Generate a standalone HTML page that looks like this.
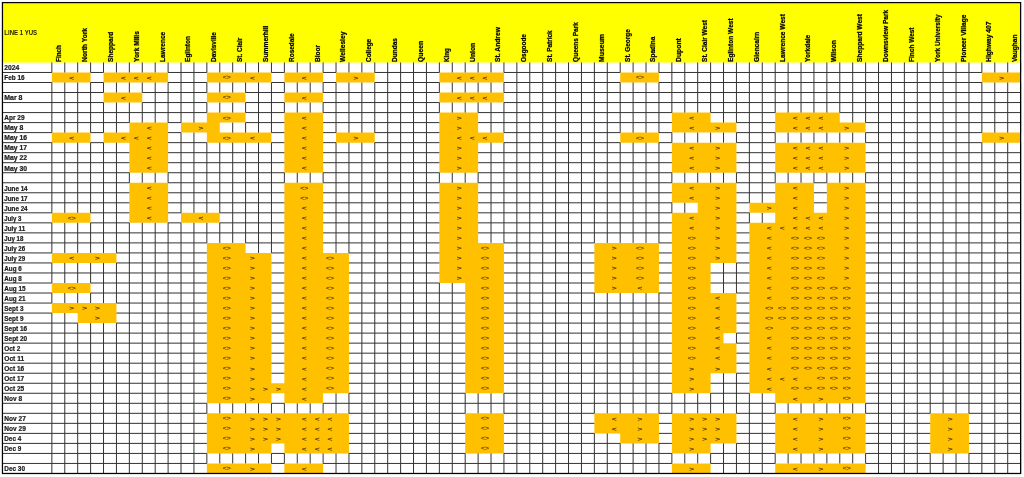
<!DOCTYPE html><html><head><meta charset="utf-8"><title>Line 1 YUS</title><style>
html,body{margin:0;padding:0;background:#fff;width:1024px;height:477px;overflow:hidden}
svg{display:block}
.h{font-family:"Liberation Sans",Arial,sans-serif;font-weight:bold;fill:#000;stroke:#000;stroke-width:0.22px}
.d{font-family:"Liberation Sans",Arial,sans-serif;font-weight:bold;fill:#1a1a1a;stroke:#1a1a1a;stroke-width:0.22px}
.s{font-family:"Liberation Sans",Arial,sans-serif;fill:#3a2600;stroke:#3a2600;stroke-width:0.15px}
</style></head><body>
<svg width="1024" height="477" viewBox="0 0 1024 477">
<rect x="0" y="0" width="1024" height="477" fill="#fff"/>
<rect x="2.6" y="2.6" width="1018.02" height="59.85" fill="#ffff00"/>
<defs><linearGradient id="yb" x1="0" y1="0" x2="0" y2="1"><stop offset="0" stop-color="#ffff00" stop-opacity="0.45"/><stop offset="1" stop-color="#ffff00" stop-opacity="0"/></linearGradient></defs>
<rect x="2.6" y="62.45" width="1018.02" height="1.5" fill="url(#yb)"/>
<path fill="#ffc000" d="M51.85 72.48H90.6V82.5H51.85ZM103.52 72.48H168.1V82.5H103.52ZM206.85 72.48H271.44V82.5H206.85ZM284.36 72.48H323.11V82.5H284.36ZM336.02 72.48H374.78V82.5H336.02ZM439.36 72.48H503.94V82.5H439.36ZM620.2 72.48H658.95V82.5H620.2ZM981.87 72.48H1020.62V82.5H981.87ZM103.52 92.53H142.27V102.55H103.52ZM206.85 92.53H245.6V102.55H206.85ZM284.36 92.53H323.11V102.55H284.36ZM439.36 92.53H503.94V102.55H439.36ZM206.85 112.58H245.6V122.6H206.85ZM284.36 112.58H323.11V122.6H284.36ZM439.36 112.58H478.11V122.6H439.36ZM671.87 112.58H710.62V122.6H671.87ZM775.2 112.58H839.79V122.6H775.2ZM129.35 122.6H168.1V132.62H129.35ZM181.02 122.6H219.77V132.62H181.02ZM284.36 122.6H323.11V132.62H284.36ZM439.36 122.6H478.11V132.62H439.36ZM671.87 122.6H736.45V132.62H671.87ZM775.2 122.6H865.62V132.62H775.2ZM51.85 132.62H90.6V142.65H51.85ZM103.52 132.62H168.1V142.65H103.52ZM206.85 132.62H271.44V142.65H206.85ZM284.36 132.62H323.11V142.65H284.36ZM336.02 132.62H374.78V142.65H336.02ZM439.36 132.62H503.94V142.65H439.36ZM620.2 132.62H658.95V142.65H620.2ZM981.87 132.62H1020.62V142.65H981.87ZM129.35 142.65H168.1V152.68H129.35ZM284.36 142.65H323.11V152.68H284.36ZM439.36 142.65H478.11V152.68H439.36ZM671.87 142.65H736.45V152.68H671.87ZM775.2 142.65H865.62V152.68H775.2ZM129.35 152.68H168.1V162.7H129.35ZM284.36 152.68H323.11V162.7H284.36ZM439.36 152.68H478.11V162.7H439.36ZM671.87 152.68H736.45V162.7H671.87ZM775.2 152.68H865.62V162.7H775.2ZM129.35 162.7H168.1V172.73H129.35ZM284.36 162.7H323.11V172.73H284.36ZM439.36 162.7H478.11V172.73H439.36ZM671.87 162.7H736.45V172.73H671.87ZM775.2 162.7H865.62V172.73H775.2ZM129.35 182.75H168.1V192.78H129.35ZM284.36 182.75H323.11V192.78H284.36ZM439.36 182.75H478.11V192.78H439.36ZM671.87 182.75H736.45V192.78H671.87ZM775.2 182.75H813.95V192.78H775.2ZM826.87 182.75H865.62V192.78H826.87ZM129.35 192.78H168.1V202.8H129.35ZM284.36 192.78H323.11V202.8H284.36ZM439.36 192.78H478.11V202.8H439.36ZM671.87 192.78H736.45V202.8H671.87ZM775.2 192.78H813.95V202.8H775.2ZM826.87 192.78H865.62V202.8H826.87ZM129.35 202.8H168.1V212.82H129.35ZM284.36 202.8H323.11V212.82H284.36ZM439.36 202.8H478.11V212.82H439.36ZM697.7 202.8H736.45V212.82H697.7ZM749.37 202.8H813.95V212.82H749.37ZM826.87 202.8H865.62V212.82H826.87ZM51.85 212.82H90.6V222.85H51.85ZM129.35 212.82H168.1V222.85H129.35ZM181.02 212.82H219.77V222.85H181.02ZM284.36 212.82H323.11V222.85H284.36ZM439.36 212.82H478.11V222.85H439.36ZM671.87 212.82H736.45V222.85H671.87ZM775.2 212.82H865.62V222.85H775.2ZM284.36 222.85H323.11V232.88H284.36ZM439.36 222.85H478.11V232.88H439.36ZM671.87 222.85H736.45V232.88H671.87ZM749.37 222.85H865.62V232.88H749.37ZM284.36 232.88H323.11V242.9H284.36ZM439.36 232.88H478.11V242.9H439.36ZM671.87 232.88H736.45V242.9H671.87ZM749.37 232.88H865.62V242.9H749.37ZM206.85 242.9H245.6V252.93H206.85ZM284.36 242.9H323.11V252.93H284.36ZM439.36 242.9H503.94V252.93H439.36ZM594.36 242.9H658.95V252.93H594.36ZM671.87 242.9H736.45V252.93H671.87ZM749.37 242.9H865.62V252.93H749.37ZM51.85 252.93H116.44V262.95H51.85ZM206.85 252.93H271.44V262.95H206.85ZM284.36 252.93H348.94V262.95H284.36ZM439.36 252.93H503.94V262.95H439.36ZM594.36 252.93H658.95V262.95H594.36ZM671.87 252.93H736.45V262.95H671.87ZM749.37 252.93H865.62V262.95H749.37ZM206.85 262.95H271.44V272.98H206.85ZM284.36 262.95H348.94V272.98H284.36ZM439.36 262.95H503.94V272.98H439.36ZM594.36 262.95H658.95V272.98H594.36ZM671.87 262.95H710.62V272.98H671.87ZM749.37 262.95H865.62V272.98H749.37ZM206.85 272.98H271.44V283H206.85ZM284.36 272.98H348.94V283H284.36ZM439.36 272.98H503.94V283H439.36ZM594.36 272.98H658.95V283H594.36ZM671.87 272.98H710.62V283H671.87ZM749.37 272.98H865.62V283H749.37ZM51.85 283H90.6V293.03H51.85ZM206.85 283H271.44V293.03H206.85ZM284.36 283H348.94V293.03H284.36ZM465.19 283H503.94V293.03H465.19ZM594.36 283H658.95V293.03H594.36ZM671.87 283H710.62V293.03H671.87ZM749.37 283H865.62V293.03H749.37ZM206.85 293.03H271.44V303.05H206.85ZM284.36 293.03H348.94V303.05H284.36ZM465.19 293.03H503.94V303.05H465.19ZM671.87 293.03H736.45V303.05H671.87ZM749.37 293.03H865.62V303.05H749.37ZM51.85 303.05H116.44V313.07H51.85ZM206.85 303.05H271.44V313.07H206.85ZM284.36 303.05H348.94V313.07H284.36ZM465.19 303.05H503.94V313.07H465.19ZM671.87 303.05H736.45V313.07H671.87ZM749.37 303.05H865.62V313.07H749.37ZM77.68 313.07H116.44V323.1H77.68ZM206.85 313.07H271.44V323.1H206.85ZM284.36 313.07H348.94V323.1H284.36ZM465.19 313.07H503.94V323.1H465.19ZM671.87 313.07H736.45V323.1H671.87ZM749.37 313.07H865.62V323.1H749.37ZM206.85 323.1H271.44V333.12H206.85ZM284.36 323.1H348.94V333.12H284.36ZM465.19 323.1H503.94V333.12H465.19ZM671.87 323.1H736.45V333.12H671.87ZM749.37 323.1H865.62V333.12H749.37ZM206.85 333.12H271.44V343.15H206.85ZM284.36 333.12H348.94V343.15H284.36ZM465.19 333.12H503.94V343.15H465.19ZM671.87 333.12H723.53V343.15H671.87ZM749.37 333.12H865.62V343.15H749.37ZM206.85 343.15H271.44V353.18H206.85ZM284.36 343.15H348.94V353.18H284.36ZM465.19 343.15H503.94V353.18H465.19ZM671.87 343.15H736.45V353.18H671.87ZM749.37 343.15H865.62V353.18H749.37ZM206.85 353.18H271.44V363.2H206.85ZM284.36 353.18H348.94V363.2H284.36ZM465.19 353.18H503.94V363.2H465.19ZM671.87 353.18H736.45V363.2H671.87ZM749.37 353.18H865.62V363.2H749.37ZM206.85 363.2H271.44V373.23H206.85ZM284.36 363.2H348.94V373.23H284.36ZM465.19 363.2H503.94V373.23H465.19ZM671.87 363.2H736.45V373.23H671.87ZM749.37 363.2H865.62V373.23H749.37ZM206.85 373.23H271.44V383.25H206.85ZM284.36 373.23H348.94V383.25H284.36ZM465.19 373.23H503.94V383.25H465.19ZM671.87 373.23H710.62V383.25H671.87ZM749.37 373.23H865.62V383.25H749.37ZM206.85 383.25H348.94V393.27H206.85ZM465.19 383.25H503.94V393.27H465.19ZM671.87 383.25H710.62V393.27H671.87ZM749.37 383.25H865.62V393.27H749.37ZM206.85 393.27H271.44V403.3H206.85ZM284.36 393.27H323.11V403.3H284.36ZM775.2 393.27H865.62V403.3H775.2ZM206.85 413.32H348.94V423.35H206.85ZM465.19 413.32H503.94V423.35H465.19ZM594.36 413.32H658.95V423.35H594.36ZM671.87 413.32H736.45V423.35H671.87ZM775.2 413.32H865.62V423.35H775.2ZM930.21 413.32H968.96V423.35H930.21ZM206.85 423.35H348.94V433.38H206.85ZM465.19 423.35H503.94V433.38H465.19ZM594.36 423.35H658.95V433.38H594.36ZM671.87 423.35H736.45V433.38H671.87ZM775.2 423.35H865.62V433.38H775.2ZM930.21 423.35H968.96V433.38H930.21ZM206.85 433.38H348.94V443.4H206.85ZM465.19 433.38H503.94V443.4H465.19ZM620.2 433.38H658.95V443.4H620.2ZM671.87 433.38H736.45V443.4H671.87ZM775.2 433.38H865.62V443.4H775.2ZM930.21 433.38H968.96V443.4H930.21ZM206.85 443.4H271.44V453.43H206.85ZM284.36 443.4H348.94V453.43H284.36ZM465.19 443.4H503.94V453.43H465.19ZM671.87 443.4H710.62V453.43H671.87ZM775.2 443.4H865.62V453.43H775.2ZM930.21 443.4H968.96V453.43H930.21ZM206.85 463.45H271.44V473.48H206.85ZM284.36 463.45H323.11V473.48H284.36ZM671.87 463.45H710.62V473.48H671.87ZM775.2 463.45H865.62V473.48H775.2Z"/>
<path d="M51.85 62.45V72.48M51.85 82.5V132.62M51.85 142.65V212.82M51.85 222.85V252.93M51.85 262.95V283M51.85 293.03V303.05M51.85 313.07V473.48M64.77 62.45V72.48M64.77 82.5V132.62M64.77 142.65V212.82M64.77 222.85V252.93M64.77 262.95V283M64.77 293.03V303.05M64.77 313.07V473.48M77.68 62.45V72.48M77.68 82.5V132.62M77.68 142.65V212.82M77.68 222.85V252.93M77.68 262.95V283M77.68 293.03V303.05M77.68 323.1V473.48M90.6 62.45V72.48M90.6 82.5V132.62M90.6 142.65V212.82M90.6 222.85V252.93M90.6 262.95V283M90.6 293.03V303.05M90.6 323.1V473.48M103.52 62.45V72.48M103.52 82.5V92.53M103.52 102.55V132.62M103.52 142.65V252.93M103.52 262.95V303.05M103.52 323.1V473.48M116.44 62.45V72.48M116.44 82.5V92.53M116.44 102.55V132.62M116.44 142.65V252.93M116.44 262.95V303.05M116.44 323.1V473.48M129.35 62.45V72.48M129.35 82.5V92.53M129.35 102.55V122.6M129.35 172.73V182.75M129.35 222.85V473.48M142.27 62.45V72.48M142.27 82.5V92.53M142.27 102.55V122.6M142.27 172.73V182.75M142.27 222.85V473.48M155.19 62.45V72.48M155.19 82.5V122.6M155.19 172.73V182.75M155.19 222.85V473.48M168.1 62.45V72.48M168.1 82.5V122.6M168.1 172.73V182.75M168.1 222.85V473.48M181.02 62.45V122.6M181.02 132.62V212.82M181.02 222.85V473.48M193.94 62.45V122.6M193.94 132.62V212.82M193.94 222.85V473.48M206.85 62.45V72.48M206.85 82.5V92.53M206.85 102.55V112.58M206.85 142.65V212.82M206.85 222.85V242.9M206.85 403.3V413.32M206.85 453.43V463.45M219.77 62.45V72.48M219.77 82.5V92.53M219.77 102.55V112.58M219.77 142.65V212.82M219.77 222.85V242.9M219.77 403.3V413.32M219.77 453.43V463.45M232.69 62.45V72.48M232.69 82.5V92.53M232.69 102.55V112.58M232.69 122.6V132.62M232.69 142.65V242.9M232.69 403.3V413.32M232.69 453.43V463.45M245.6 62.45V72.48M245.6 82.5V92.53M245.6 102.55V112.58M245.6 122.6V132.62M245.6 142.65V242.9M245.6 403.3V413.32M245.6 453.43V463.45M258.52 62.45V72.48M258.52 82.5V132.62M258.52 142.65V252.93M258.52 403.3V413.32M258.52 453.43V463.45M271.44 62.45V72.48M271.44 82.5V132.62M271.44 142.65V252.93M271.44 403.3V413.32M271.44 453.43V463.45M284.36 62.45V72.48M284.36 82.5V92.53M284.36 102.55V112.58M284.36 172.73V182.75M284.36 403.3V413.32M284.36 453.43V463.45M297.27 62.45V72.48M297.27 82.5V92.53M297.27 102.55V112.58M297.27 172.73V182.75M297.27 403.3V413.32M297.27 453.43V463.45M310.19 62.45V72.48M310.19 82.5V92.53M310.19 102.55V112.58M310.19 172.73V182.75M310.19 403.3V413.32M310.19 453.43V463.45M323.11 62.45V72.48M323.11 82.5V92.53M323.11 102.55V112.58M323.11 172.73V182.75M323.11 403.3V413.32M323.11 453.43V463.45M336.02 62.45V72.48M336.02 82.5V132.62M336.02 142.65V252.93M336.02 393.27V413.32M336.02 453.43V473.48M348.94 62.45V72.48M348.94 82.5V132.62M348.94 142.65V252.93M348.94 393.27V413.32M348.94 453.43V473.48M361.86 62.45V72.48M361.86 82.5V132.62M361.86 142.65V473.48M374.78 62.45V72.48M374.78 82.5V132.62M374.78 142.65V473.48M387.69 62.45V473.48M400.61 62.45V473.48M413.53 62.45V473.48M426.44 62.45V473.48M439.36 62.45V72.48M439.36 82.5V92.53M439.36 102.55V112.58M439.36 172.73V182.75M439.36 283V473.48M452.28 62.45V72.48M452.28 82.5V92.53M452.28 102.55V112.58M452.28 172.73V182.75M452.28 283V473.48M465.19 62.45V72.48M465.19 82.5V92.53M465.19 102.55V112.58M465.19 172.73V182.75M465.19 393.27V413.32M465.19 453.43V473.48M478.11 62.45V72.48M478.11 82.5V92.53M478.11 102.55V112.58M478.11 172.73V182.75M478.11 393.27V413.32M478.11 453.43V473.48M491.03 62.45V72.48M491.03 82.5V92.53M491.03 102.55V132.62M491.03 142.65V242.9M491.03 393.27V413.32M491.03 453.43V473.48M503.94 62.45V72.48M503.94 82.5V92.53M503.94 102.55V132.62M503.94 142.65V242.9M503.94 393.27V413.32M503.94 453.43V473.48M516.86 62.45V473.48M529.78 62.45V473.48M542.7 62.45V473.48M555.61 62.45V473.48M568.53 62.45V473.48M581.45 62.45V473.48M594.36 62.45V242.9M594.36 293.03V413.32M594.36 433.38V473.48M607.28 62.45V242.9M607.28 293.03V413.32M607.28 433.38V473.48M620.2 62.45V72.48M620.2 82.5V132.62M620.2 142.65V242.9M620.2 293.03V413.32M620.2 443.4V473.48M633.12 62.45V72.48M633.12 82.5V132.62M633.12 142.65V242.9M633.12 293.03V413.32M633.12 443.4V473.48M646.03 62.45V72.48M646.03 82.5V132.62M646.03 142.65V242.9M646.03 293.03V413.32M646.03 443.4V473.48M658.95 62.45V72.48M658.95 82.5V132.62M658.95 142.65V242.9M658.95 293.03V413.32M658.95 443.4V473.48M671.87 62.45V112.58M671.87 132.62V142.65M671.87 172.73V182.75M671.87 202.8V212.82M671.87 393.27V413.32M671.87 453.43V463.45M684.78 62.45V112.58M684.78 132.62V142.65M684.78 172.73V182.75M684.78 202.8V212.82M684.78 393.27V413.32M684.78 453.43V463.45M697.7 62.45V112.58M697.7 132.62V142.65M697.7 172.73V182.75M697.7 393.27V413.32M697.7 453.43V463.45M710.62 62.45V112.58M710.62 132.62V142.65M710.62 172.73V182.75M710.62 393.27V413.32M710.62 453.43V463.45M723.53 62.45V122.6M723.53 132.62V142.65M723.53 172.73V182.75M723.53 262.95V293.03M723.53 373.23V413.32M723.53 443.4V473.48M736.45 62.45V122.6M736.45 132.62V142.65M736.45 172.73V182.75M736.45 262.95V293.03M736.45 333.12V343.15M736.45 373.23V413.32M736.45 443.4V473.48M749.37 62.45V202.8M749.37 212.82V222.85M749.37 393.27V473.48M762.28 62.45V202.8M762.28 212.82V222.85M762.28 393.27V473.48M775.2 62.45V112.58M775.2 132.62V142.65M775.2 172.73V182.75M775.2 403.3V413.32M775.2 453.43V463.45M788.12 62.45V112.58M788.12 132.62V142.65M788.12 172.73V182.75M788.12 403.3V413.32M788.12 453.43V463.45M801.04 62.45V112.58M801.04 132.62V142.65M801.04 172.73V182.75M801.04 403.3V413.32M801.04 453.43V463.45M813.95 62.45V112.58M813.95 132.62V142.65M813.95 172.73V182.75M813.95 403.3V413.32M813.95 453.43V463.45M826.87 62.45V112.58M826.87 132.62V142.65M826.87 172.73V182.75M826.87 403.3V413.32M826.87 453.43V463.45M839.79 62.45V112.58M839.79 132.62V142.65M839.79 172.73V182.75M839.79 403.3V413.32M839.79 453.43V463.45M852.7 62.45V122.6M852.7 132.62V142.65M852.7 172.73V182.75M852.7 403.3V413.32M852.7 453.43V463.45M865.62 62.45V122.6M865.62 132.62V142.65M865.62 172.73V182.75M865.62 403.3V413.32M865.62 453.43V463.45M878.54 62.45V473.48M891.46 62.45V473.48M904.37 62.45V473.48M917.29 62.45V473.48M930.21 62.45V413.32M930.21 453.43V473.48M943.12 62.45V413.32M943.12 453.43V473.48M956.04 62.45V413.32M956.04 453.43V473.48M968.96 62.45V413.32M968.96 453.43V473.48M981.87 62.45V72.48M981.87 82.5V132.62M981.87 142.65V473.48M994.79 62.45V72.48M994.79 82.5V132.62M994.79 142.65V473.48M1007.71 62.45V72.48M1007.71 82.5V132.62M1007.71 142.65V473.48M1020.62 62.45V72.48M1020.62 82.5V132.62M1020.62 142.65V473.48M2.4 72.48H51.85M90.6 72.48H103.52M168.1 72.48H206.85M271.44 72.48H284.36M323.11 72.48H336.02M374.78 72.48H439.36M503.94 72.48H620.2M658.95 72.48H981.87M2.4 82.5H51.85M90.6 82.5H103.52M168.1 82.5H206.85M271.44 82.5H284.36M323.11 82.5H336.02M374.78 82.5H439.36M503.94 82.5H620.2M658.95 82.5H981.87M2.4 92.53H103.52M142.27 92.53H206.85M245.6 92.53H284.36M323.11 92.53H439.36M503.94 92.53H1020.62M2.4 102.55H103.52M142.27 102.55H206.85M245.6 102.55H284.36M323.11 102.55H439.36M503.94 102.55H1020.62M2.4 112.58H206.85M245.6 112.58H284.36M323.11 112.58H439.36M478.11 112.58H671.87M710.62 112.58H775.2M839.79 112.58H1020.62M2.4 122.6H129.35M168.1 122.6H181.02M245.6 122.6H284.36M323.11 122.6H439.36M478.11 122.6H671.87M736.45 122.6H775.2M865.62 122.6H1020.62M2.4 132.62H51.85M90.6 132.62H103.52M168.1 132.62H181.02M271.44 132.62H284.36M323.11 132.62H336.02M374.78 132.62H439.36M503.94 132.62H620.2M658.95 132.62H671.87M736.45 132.62H775.2M865.62 132.62H981.87M2.4 142.65H51.85M90.6 142.65H103.52M168.1 142.65H206.85M271.44 142.65H284.36M323.11 142.65H336.02M374.78 142.65H439.36M503.94 142.65H620.2M658.95 142.65H671.87M736.45 142.65H775.2M865.62 142.65H981.87M2.4 152.68H129.35M168.1 152.68H284.36M323.11 152.68H439.36M478.11 152.68H671.87M736.45 152.68H775.2M865.62 152.68H1020.62M2.4 162.7H129.35M168.1 162.7H284.36M323.11 162.7H439.36M478.11 162.7H671.87M736.45 162.7H775.2M865.62 162.7H1020.62M2.4 172.73H129.35M168.1 172.73H284.36M323.11 172.73H439.36M478.11 172.73H671.87M736.45 172.73H775.2M865.62 172.73H1020.62M2.4 182.75H129.35M168.1 182.75H284.36M323.11 182.75H439.36M478.11 182.75H671.87M736.45 182.75H775.2M813.95 182.75H826.87M865.62 182.75H1020.62M2.4 192.78H129.35M168.1 192.78H284.36M323.11 192.78H439.36M478.11 192.78H671.87M736.45 192.78H775.2M813.95 192.78H826.87M865.62 192.78H1020.62M2.4 202.8H129.35M168.1 202.8H284.36M323.11 202.8H439.36M478.11 202.8H671.87M736.45 202.8H749.37M813.95 202.8H826.87M865.62 202.8H1020.62M2.4 212.82H51.85M90.6 212.82H129.35M168.1 212.82H181.02M219.77 212.82H284.36M323.11 212.82H439.36M478.11 212.82H671.87M736.45 212.82H749.37M865.62 212.82H1020.62M2.4 222.85H51.85M90.6 222.85H129.35M168.1 222.85H181.02M219.77 222.85H284.36M323.11 222.85H439.36M478.11 222.85H671.87M736.45 222.85H749.37M865.62 222.85H1020.62M2.4 232.88H284.36M323.11 232.88H439.36M478.11 232.88H671.87M736.45 232.88H749.37M865.62 232.88H1020.62M2.4 242.9H206.85M245.6 242.9H284.36M323.11 242.9H439.36M503.94 242.9H594.36M658.95 242.9H671.87M736.45 242.9H749.37M865.62 242.9H1020.62M2.4 252.93H51.85M116.44 252.93H206.85M271.44 252.93H284.36M348.94 252.93H439.36M503.94 252.93H594.36M658.95 252.93H671.87M736.45 252.93H749.37M865.62 252.93H1020.62M2.4 262.95H51.85M116.44 262.95H206.85M271.44 262.95H284.36M348.94 262.95H439.36M503.94 262.95H594.36M658.95 262.95H671.87M736.45 262.95H749.37M865.62 262.95H1020.62M2.4 272.98H206.85M271.44 272.98H284.36M348.94 272.98H439.36M503.94 272.98H594.36M658.95 272.98H671.87M710.62 272.98H749.37M865.62 272.98H1020.62M2.4 283H51.85M90.6 283H206.85M271.44 283H284.36M348.94 283H439.36M503.94 283H594.36M658.95 283H671.87M710.62 283H749.37M865.62 283H1020.62M2.4 293.03H51.85M90.6 293.03H206.85M271.44 293.03H284.36M348.94 293.03H465.19M503.94 293.03H594.36M658.95 293.03H671.87M736.45 293.03H749.37M865.62 293.03H1020.62M2.4 303.05H51.85M116.44 303.05H206.85M271.44 303.05H284.36M348.94 303.05H465.19M503.94 303.05H671.87M736.45 303.05H749.37M865.62 303.05H1020.62M2.4 313.07H51.85M116.44 313.07H206.85M271.44 313.07H284.36M348.94 313.07H465.19M503.94 313.07H671.87M736.45 313.07H749.37M865.62 313.07H1020.62M2.4 323.1H77.68M116.44 323.1H206.85M271.44 323.1H284.36M348.94 323.1H465.19M503.94 323.1H671.87M736.45 323.1H749.37M865.62 323.1H1020.62M2.4 333.12H206.85M271.44 333.12H284.36M348.94 333.12H465.19M503.94 333.12H671.87M736.45 333.12H749.37M865.62 333.12H1020.62M2.4 343.15H206.85M271.44 343.15H284.36M348.94 343.15H465.19M503.94 343.15H671.87M736.45 343.15H749.37M865.62 343.15H1020.62M2.4 353.18H206.85M271.44 353.18H284.36M348.94 353.18H465.19M503.94 353.18H671.87M736.45 353.18H749.37M865.62 353.18H1020.62M2.4 363.2H206.85M271.44 363.2H284.36M348.94 363.2H465.19M503.94 363.2H671.87M736.45 363.2H749.37M865.62 363.2H1020.62M2.4 373.23H206.85M271.44 373.23H284.36M348.94 373.23H465.19M503.94 373.23H671.87M736.45 373.23H749.37M865.62 373.23H1020.62M2.4 383.25H206.85M348.94 383.25H465.19M503.94 383.25H671.87M710.62 383.25H749.37M865.62 383.25H1020.62M2.4 393.27H206.85M348.94 393.27H465.19M503.94 393.27H671.87M710.62 393.27H749.37M865.62 393.27H1020.62M2.4 403.3H206.85M271.44 403.3H284.36M323.11 403.3H775.2M865.62 403.3H1020.62M2.4 413.32H206.85M348.94 413.32H465.19M503.94 413.32H594.36M658.95 413.32H671.87M736.45 413.32H775.2M865.62 413.32H930.21M968.96 413.32H1020.62M2.4 423.35H206.85M348.94 423.35H465.19M503.94 423.35H594.36M658.95 423.35H671.87M736.45 423.35H775.2M865.62 423.35H930.21M968.96 423.35H1020.62M2.4 433.38H206.85M348.94 433.38H465.19M503.94 433.38H594.36M658.95 433.38H671.87M736.45 433.38H775.2M865.62 433.38H930.21M968.96 433.38H1020.62M2.4 443.4H206.85M348.94 443.4H465.19M503.94 443.4H620.2M658.95 443.4H671.87M736.45 443.4H775.2M865.62 443.4H930.21M968.96 443.4H1020.62M2.4 453.43H206.85M271.44 453.43H284.36M348.94 453.43H465.19M503.94 453.43H671.87M710.62 453.43H775.2M865.62 453.43H930.21M968.96 453.43H1020.62M2.4 463.45H206.85M271.44 463.45H284.36M323.11 463.45H671.87M710.62 463.45H775.2M865.62 463.45H1020.62" stroke="#333333" stroke-width="1.0" fill="none"/>
<rect x="2.45" y="2.6" width="1018.17" height="470.88" fill="none" stroke="#000" stroke-width="1.25"/>
<g class="h" font-size="6.7"><text x="4.3" y="35.0" style="stroke-width:0;fill:#1e1e00" textLength="32.86" lengthAdjust="spacingAndGlyphs">LINE 1 YUS</text><text transform="translate(61.31 61.9) rotate(-90)" textLength="16.69" lengthAdjust="spacingAndGlyphs">Finch</text><text transform="translate(87.14 61.9) rotate(-90)" textLength="34" lengthAdjust="spacingAndGlyphs">North York</text><text transform="translate(112.98 61.9) rotate(-90)" textLength="30.09" lengthAdjust="spacingAndGlyphs">Sheppard</text><text transform="translate(138.81 61.9) rotate(-90)" textLength="30.76" lengthAdjust="spacingAndGlyphs">York Mills</text><text transform="translate(164.64 61.9) rotate(-90)" textLength="30.1" lengthAdjust="spacingAndGlyphs">Lawrence</text><text transform="translate(190.48 61.9) rotate(-90)" textLength="25.78" lengthAdjust="spacingAndGlyphs">Eglinton</text><text transform="translate(216.31 61.9) rotate(-90)" textLength="29.85" lengthAdjust="spacingAndGlyphs">Davisville</text><text transform="translate(242.15 61.9) rotate(-90)" textLength="24.18" lengthAdjust="spacingAndGlyphs">St. Clair</text><text transform="translate(267.98 61.9) rotate(-90)" textLength="36.24" lengthAdjust="spacingAndGlyphs">Summerhill</text><text transform="translate(293.81 61.9) rotate(-90)" textLength="28.61" lengthAdjust="spacingAndGlyphs">Rosedale</text><text transform="translate(319.65 61.9) rotate(-90)" textLength="17" lengthAdjust="spacingAndGlyphs">Bloor</text><text transform="translate(345.48 61.9) rotate(-90)" textLength="30.26" lengthAdjust="spacingAndGlyphs">Wellesley</text><text transform="translate(371.32 61.9) rotate(-90)" textLength="23.02" lengthAdjust="spacingAndGlyphs">College</text><text transform="translate(397.15 61.9) rotate(-90)" textLength="23.81" lengthAdjust="spacingAndGlyphs">Dundas</text><text transform="translate(422.98 61.9) rotate(-90)" textLength="21.02" lengthAdjust="spacingAndGlyphs">Queen</text><text transform="translate(448.82 61.9) rotate(-90)" textLength="13.7" lengthAdjust="spacingAndGlyphs">King</text><text transform="translate(474.65 61.9) rotate(-90)" textLength="19.07" lengthAdjust="spacingAndGlyphs">Union</text><text transform="translate(500.49 61.9) rotate(-90)" textLength="34.81" lengthAdjust="spacingAndGlyphs">St. Andrew</text><text transform="translate(526.32 61.9) rotate(-90)" textLength="27.78" lengthAdjust="spacingAndGlyphs">Osgoode</text><text transform="translate(552.15 61.9) rotate(-90)" textLength="31.58" lengthAdjust="spacingAndGlyphs">St. Patrick</text><text transform="translate(577.99 61.9) rotate(-90)" textLength="39.77" lengthAdjust="spacingAndGlyphs">Queens Park</text><text transform="translate(603.82 61.9) rotate(-90)" textLength="27.84" lengthAdjust="spacingAndGlyphs">Museum</text><text transform="translate(629.66 61.9) rotate(-90)" textLength="32.69" lengthAdjust="spacingAndGlyphs">St. George</text><text transform="translate(655.49 61.9) rotate(-90)" textLength="25.2" lengthAdjust="spacingAndGlyphs">Spadina</text><text transform="translate(681.32 61.9) rotate(-90)" textLength="23.68" lengthAdjust="spacingAndGlyphs">Dupont</text><text transform="translate(707.16 61.9) rotate(-90)" textLength="41.93" lengthAdjust="spacingAndGlyphs">St. Clair West</text><text transform="translate(732.99 61.9) rotate(-90)" textLength="43.52" lengthAdjust="spacingAndGlyphs">Eglinton West</text><text transform="translate(758.83 61.9) rotate(-90)" textLength="30.15" lengthAdjust="spacingAndGlyphs">Glencairn</text><text transform="translate(784.66 61.9) rotate(-90)" textLength="47.84" lengthAdjust="spacingAndGlyphs">Lawrence West</text><text transform="translate(810.49 61.9) rotate(-90)" textLength="27.12" lengthAdjust="spacingAndGlyphs">Yorkdale</text><text transform="translate(836.33 61.9) rotate(-90)" textLength="21.82" lengthAdjust="spacingAndGlyphs">Wilson</text><text transform="translate(862.16 61.9) rotate(-90)" textLength="47.83" lengthAdjust="spacingAndGlyphs">Sheppard West</text><text transform="translate(888 61.9) rotate(-90)" textLength="52.16" lengthAdjust="spacingAndGlyphs">Downsview Park</text><text transform="translate(913.83 61.9) rotate(-90)" textLength="34.43" lengthAdjust="spacingAndGlyphs">Finch West</text><text transform="translate(939.66 61.9) rotate(-90)" textLength="47.49" lengthAdjust="spacingAndGlyphs">York University</text><text transform="translate(965.5 61.9) rotate(-90)" textLength="47.34" lengthAdjust="spacingAndGlyphs">Pioneer Village</text><text transform="translate(991.33 61.9) rotate(-90)" textLength="40.35" lengthAdjust="spacingAndGlyphs">Highway 407</text><text transform="translate(1017.17 61.9) rotate(-90)" textLength="27.42" lengthAdjust="spacingAndGlyphs">Vaughan</text></g>
<g class="d" font-size="6.7"><text x="4.3" y="70.25" textLength="15" lengthAdjust="spacingAndGlyphs">2024</text><text x="4.3" y="80.28" textLength="20.16" lengthAdjust="spacingAndGlyphs">Feb 16</text><text x="4.3" y="100.33" textLength="18.17" lengthAdjust="spacingAndGlyphs">Mar 8</text><text x="4.3" y="120.38" textLength="20.26" lengthAdjust="spacingAndGlyphs">Apr 29</text><text x="4.3" y="130.4" textLength="18.92" lengthAdjust="spacingAndGlyphs">May 8</text><text x="4.3" y="140.43" textLength="22.67" lengthAdjust="spacingAndGlyphs">May 16</text><text x="4.3" y="150.45" textLength="22.67" lengthAdjust="spacingAndGlyphs">May 17</text><text x="4.3" y="160.48" textLength="22.67" lengthAdjust="spacingAndGlyphs">May 22</text><text x="4.3" y="170.5" textLength="22.67" lengthAdjust="spacingAndGlyphs">May 30</text><text x="4.3" y="190.55" textLength="23.29" lengthAdjust="spacingAndGlyphs">June 14</text><text x="4.3" y="200.58" textLength="23.29" lengthAdjust="spacingAndGlyphs">June 17</text><text x="4.3" y="210.6" textLength="23.29" lengthAdjust="spacingAndGlyphs">June 24</text><text x="4.3" y="220.62" textLength="17.17" lengthAdjust="spacingAndGlyphs">July 3</text><text x="4.3" y="230.65" textLength="20.92" lengthAdjust="spacingAndGlyphs">July 11</text><text x="4.3" y="240.68" textLength="19.1" lengthAdjust="spacingAndGlyphs">Juy 18</text><text x="4.3" y="250.7" textLength="20.92" lengthAdjust="spacingAndGlyphs">July 26</text><text x="4.3" y="260.73" textLength="20.92" lengthAdjust="spacingAndGlyphs">July 29</text><text x="4.3" y="270.75" textLength="17.39" lengthAdjust="spacingAndGlyphs">Aug 6</text><text x="4.3" y="280.78" textLength="17.39" lengthAdjust="spacingAndGlyphs">Aug 8</text><text x="4.3" y="290.8" textLength="21.14" lengthAdjust="spacingAndGlyphs">Aug 15</text><text x="4.3" y="300.83" textLength="21.14" lengthAdjust="spacingAndGlyphs">Aug 21</text><text x="4.3" y="310.85" textLength="19.15" lengthAdjust="spacingAndGlyphs">Sept 3</text><text x="4.3" y="320.88" textLength="19.15" lengthAdjust="spacingAndGlyphs">Sept 9</text><text x="4.3" y="330.9" textLength="22.9" lengthAdjust="spacingAndGlyphs">Sept 16</text><text x="4.3" y="340.93" textLength="22.9" lengthAdjust="spacingAndGlyphs">Sept 20</text><text x="4.3" y="350.95" textLength="16.09" lengthAdjust="spacingAndGlyphs">Oct 2</text><text x="4.3" y="360.98" textLength="19.84" lengthAdjust="spacingAndGlyphs">Oct 11</text><text x="4.3" y="371" textLength="19.84" lengthAdjust="spacingAndGlyphs">Oct 16</text><text x="4.3" y="381.03" textLength="19.84" lengthAdjust="spacingAndGlyphs">Oct 17</text><text x="4.3" y="391.05" textLength="19.84" lengthAdjust="spacingAndGlyphs">Oct 25</text><text x="4.3" y="401.07" textLength="17.76" lengthAdjust="spacingAndGlyphs">Nov 8</text><text x="4.3" y="421.12" textLength="21.51" lengthAdjust="spacingAndGlyphs">Nov 27</text><text x="4.3" y="431.15" textLength="21.51" lengthAdjust="spacingAndGlyphs">Nov 29</text><text x="4.3" y="441.18" textLength="16.91" lengthAdjust="spacingAndGlyphs">Dec 4</text><text x="4.3" y="451.2" textLength="16.91" lengthAdjust="spacingAndGlyphs">Dec 9</text><text x="4.3" y="471.25" textLength="20.66" lengthAdjust="spacingAndGlyphs">Dec 30</text></g>
<g class="s" font-size="7.0" text-anchor="middle"><text transform="translate(71.73 79.78) scale(1.2 0.78)">&lt;</text><text transform="translate(123.39 79.78) scale(1.2 0.78)">&lt;</text><text transform="translate(136.31 79.78) scale(1.2 0.78)">&lt;</text><text transform="translate(149.23 79.78) scale(1.2 0.78)">&lt;</text><text transform="translate(226.73 79.43) scale(1.0 0.66)" textLength="8.1" lengthAdjust="spacingAndGlyphs">&lt;&gt;</text><text transform="translate(252.56 79.78) scale(1.2 0.78)">&lt;</text><text transform="translate(304.23 79.78) scale(1.2 0.78)">&lt;</text><text transform="translate(355.9 79.78) scale(1.2 0.78)">&gt;</text><text transform="translate(459.24 79.78) scale(1.2 0.78)">&lt;</text><text transform="translate(472.15 79.78) scale(1.2 0.78)">&lt;</text><text transform="translate(485.07 79.78) scale(1.2 0.78)">&lt;</text><text transform="translate(640.07 79.43) scale(1.0 0.66)" textLength="8.1" lengthAdjust="spacingAndGlyphs">&lt;&gt;</text><text transform="translate(1001.75 79.78) scale(1.2 0.78)">&gt;</text><text transform="translate(123.39 99.83) scale(1.2 0.78)">&lt;</text><text transform="translate(226.73 99.48) scale(1.0 0.66)" textLength="8.1" lengthAdjust="spacingAndGlyphs">&lt;&gt;</text><text transform="translate(304.23 99.83) scale(1.2 0.78)">&lt;</text><text transform="translate(459.24 99.83) scale(1.2 0.78)">&lt;</text><text transform="translate(472.15 99.83) scale(1.2 0.78)">&lt;</text><text transform="translate(485.07 99.83) scale(1.2 0.78)">&lt;</text><text transform="translate(226.73 119.53) scale(1.0 0.66)" textLength="8.1" lengthAdjust="spacingAndGlyphs">&lt;&gt;</text><text transform="translate(304.23 119.88) scale(1.2 0.78)">&lt;</text><text transform="translate(459.24 119.88) scale(1.2 0.78)">&gt;</text><text transform="translate(691.74 119.88) scale(1.2 0.78)">&lt;</text><text transform="translate(795.08 119.88) scale(1.2 0.78)">&lt;</text><text transform="translate(807.99 119.88) scale(1.2 0.78)">&lt;</text><text transform="translate(820.91 119.88) scale(1.2 0.78)">&lt;</text><text transform="translate(149.23 129.9) scale(1.2 0.78)">&lt;</text><text transform="translate(200.9 129.9) scale(1.2 0.78)">&gt;</text><text transform="translate(304.23 129.9) scale(1.2 0.78)">&lt;</text><text transform="translate(459.24 129.9) scale(1.2 0.78)">&gt;</text><text transform="translate(691.74 129.9) scale(1.2 0.78)">&lt;</text><text transform="translate(717.58 129.9) scale(1.2 0.78)">&gt;</text><text transform="translate(795.08 129.9) scale(1.2 0.78)">&lt;</text><text transform="translate(807.99 129.9) scale(1.2 0.78)">&lt;</text><text transform="translate(820.91 129.9) scale(1.2 0.78)">&lt;</text><text transform="translate(846.75 129.9) scale(1.2 0.78)">&gt;</text><text transform="translate(71.73 139.93) scale(1.2 0.78)">&lt;</text><text transform="translate(123.39 139.93) scale(1.2 0.78)">&lt;</text><text transform="translate(136.31 139.93) scale(1.2 0.78)">&lt;</text><text transform="translate(149.23 139.93) scale(1.2 0.78)">&lt;</text><text transform="translate(226.73 139.57) scale(1.0 0.66)" textLength="8.1" lengthAdjust="spacingAndGlyphs">&lt;&gt;</text><text transform="translate(252.56 139.93) scale(1.2 0.78)">&lt;</text><text transform="translate(304.23 139.93) scale(1.2 0.78)">&lt;</text><text transform="translate(355.9 139.93) scale(1.2 0.78)">&gt;</text><text transform="translate(459.24 139.93) scale(1.2 0.78)">&lt;</text><text transform="translate(472.15 139.93) scale(1.2 0.78)">&lt;</text><text transform="translate(485.07 139.93) scale(1.2 0.78)">&lt;</text><text transform="translate(640.07 139.57) scale(1.0 0.66)" textLength="8.1" lengthAdjust="spacingAndGlyphs">&lt;&gt;</text><text transform="translate(1001.75 139.93) scale(1.2 0.78)">&gt;</text><text transform="translate(149.23 149.95) scale(1.2 0.78)">&lt;</text><text transform="translate(304.23 149.95) scale(1.2 0.78)">&lt;</text><text transform="translate(459.24 149.95) scale(1.2 0.78)">&gt;</text><text transform="translate(691.74 149.95) scale(1.2 0.78)">&lt;</text><text transform="translate(717.58 149.95) scale(1.2 0.78)">&gt;</text><text transform="translate(795.08 149.95) scale(1.2 0.78)">&lt;</text><text transform="translate(807.99 149.95) scale(1.2 0.78)">&lt;</text><text transform="translate(820.91 149.95) scale(1.2 0.78)">&lt;</text><text transform="translate(846.75 149.95) scale(1.2 0.78)">&gt;</text><text transform="translate(149.23 159.98) scale(1.2 0.78)">&lt;</text><text transform="translate(304.23 159.98) scale(1.2 0.78)">&lt;</text><text transform="translate(459.24 159.98) scale(1.2 0.78)">&gt;</text><text transform="translate(691.74 159.98) scale(1.2 0.78)">&lt;</text><text transform="translate(717.58 159.98) scale(1.2 0.78)">&gt;</text><text transform="translate(795.08 159.98) scale(1.2 0.78)">&lt;</text><text transform="translate(807.99 159.98) scale(1.2 0.78)">&lt;</text><text transform="translate(820.91 159.98) scale(1.2 0.78)">&lt;</text><text transform="translate(846.75 159.98) scale(1.2 0.78)">&gt;</text><text transform="translate(149.23 170) scale(1.2 0.78)">&lt;</text><text transform="translate(304.23 170) scale(1.2 0.78)">&lt;</text><text transform="translate(459.24 170) scale(1.2 0.78)">&gt;</text><text transform="translate(691.74 170) scale(1.2 0.78)">&lt;</text><text transform="translate(717.58 170) scale(1.2 0.78)">&gt;</text><text transform="translate(795.08 170) scale(1.2 0.78)">&lt;</text><text transform="translate(807.99 170) scale(1.2 0.78)">&lt;</text><text transform="translate(820.91 170) scale(1.2 0.78)">&lt;</text><text transform="translate(846.75 170) scale(1.2 0.78)">&gt;</text><text transform="translate(149.23 190.05) scale(1.2 0.78)">&lt;</text><text transform="translate(304.23 189.7) scale(1.0 0.66)" textLength="8.1" lengthAdjust="spacingAndGlyphs">&lt;&gt;</text><text transform="translate(459.24 190.05) scale(1.2 0.78)">&gt;</text><text transform="translate(691.74 190.05) scale(1.2 0.78)">&lt;</text><text transform="translate(717.58 190.05) scale(1.2 0.78)">&gt;</text><text transform="translate(795.08 190.05) scale(1.2 0.78)">&lt;</text><text transform="translate(846.75 190.05) scale(1.2 0.78)">&gt;</text><text transform="translate(149.23 200.08) scale(1.2 0.78)">&lt;</text><text transform="translate(304.23 199.73) scale(1.0 0.66)" textLength="8.1" lengthAdjust="spacingAndGlyphs">&lt;&gt;</text><text transform="translate(459.24 200.08) scale(1.2 0.78)">&gt;</text><text transform="translate(691.74 200.08) scale(1.2 0.78)">&lt;</text><text transform="translate(717.58 200.08) scale(1.2 0.78)">&gt;</text><text transform="translate(795.08 200.08) scale(1.2 0.78)">&lt;</text><text transform="translate(846.75 200.08) scale(1.2 0.78)">&gt;</text><text transform="translate(149.23 210.1) scale(1.2 0.78)">&lt;</text><text transform="translate(304.23 210.1) scale(1.2 0.78)">&lt;</text><text transform="translate(459.24 210.1) scale(1.2 0.78)">&gt;</text><text transform="translate(717.58 210.1) scale(1.2 0.78)">&gt;</text><text transform="translate(769.24 210.1) scale(1.2 0.78)">&gt;</text><text transform="translate(795.08 210.1) scale(1.2 0.78)">&lt;</text><text transform="translate(846.75 210.1) scale(1.2 0.78)">&gt;</text><text transform="translate(71.73 219.77) scale(1.0 0.66)" textLength="8.1" lengthAdjust="spacingAndGlyphs">&lt;&gt;</text><text transform="translate(149.23 220.12) scale(1.2 0.78)">&lt;</text><text transform="translate(200.9 220.12) scale(1.2 0.78)">&lt;</text><text transform="translate(304.23 220.12) scale(1.2 0.78)">&lt;</text><text transform="translate(459.24 220.12) scale(1.2 0.78)">&gt;</text><text transform="translate(691.74 220.12) scale(1.2 0.78)">&lt;</text><text transform="translate(717.58 220.12) scale(1.2 0.78)">&gt;</text><text transform="translate(795.08 220.12) scale(1.2 0.78)">&lt;</text><text transform="translate(807.99 220.12) scale(1.2 0.78)">&lt;</text><text transform="translate(820.91 220.12) scale(1.2 0.78)">&lt;</text><text transform="translate(846.75 220.12) scale(1.2 0.78)">&gt;</text><text transform="translate(304.23 230.15) scale(1.2 0.78)">&lt;</text><text transform="translate(459.24 230.15) scale(1.2 0.78)">&gt;</text><text transform="translate(691.74 230.15) scale(1.2 0.78)">&lt;</text><text transform="translate(717.58 230.15) scale(1.2 0.78)">&gt;</text><text transform="translate(769.24 230.15) scale(1.2 0.78)">&lt;</text><text transform="translate(782.16 230.15) scale(1.2 0.78)">&lt;</text><text transform="translate(795.08 230.15) scale(1.2 0.78)">&lt;</text><text transform="translate(807.99 230.15) scale(1.2 0.78)">&lt;</text><text transform="translate(820.91 230.15) scale(1.2 0.78)">&lt;</text><text transform="translate(846.75 230.15) scale(1.2 0.78)">&gt;</text><text transform="translate(304.23 240.18) scale(1.2 0.78)">&lt;</text><text transform="translate(459.24 240.18) scale(1.2 0.78)">&gt;</text><text transform="translate(691.74 239.82) scale(1.0 0.66)" textLength="8.1" lengthAdjust="spacingAndGlyphs">&lt;&gt;</text><text transform="translate(717.58 240.18) scale(1.2 0.78)">&gt;</text><text transform="translate(769.24 240.18) scale(1.2 0.78)">&lt;</text><text transform="translate(795.08 239.82) scale(1.0 0.66)" textLength="8.1" lengthAdjust="spacingAndGlyphs">&lt;&gt;</text><text transform="translate(807.99 239.82) scale(1.0 0.66)" textLength="8.1" lengthAdjust="spacingAndGlyphs">&lt;&gt;</text><text transform="translate(820.91 239.82) scale(1.0 0.66)" textLength="8.1" lengthAdjust="spacingAndGlyphs">&lt;&gt;</text><text transform="translate(846.75 240.18) scale(1.2 0.78)">&gt;</text><text transform="translate(226.73 249.85) scale(1.0 0.66)" textLength="8.1" lengthAdjust="spacingAndGlyphs">&lt;&gt;</text><text transform="translate(304.23 250.2) scale(1.2 0.78)">&lt;</text><text transform="translate(459.24 250.2) scale(1.2 0.78)">&gt;</text><text transform="translate(485.07 249.85) scale(1.0 0.66)" textLength="8.1" lengthAdjust="spacingAndGlyphs">&lt;&gt;</text><text transform="translate(614.24 250.2) scale(1.2 0.78)">&gt;</text><text transform="translate(640.07 249.85) scale(1.0 0.66)" textLength="8.1" lengthAdjust="spacingAndGlyphs">&lt;&gt;</text><text transform="translate(691.74 249.85) scale(1.0 0.66)" textLength="8.1" lengthAdjust="spacingAndGlyphs">&lt;&gt;</text><text transform="translate(717.58 250.2) scale(1.2 0.78)">&gt;</text><text transform="translate(769.24 250.2) scale(1.2 0.78)">&lt;</text><text transform="translate(795.08 249.85) scale(1.0 0.66)" textLength="8.1" lengthAdjust="spacingAndGlyphs">&lt;&gt;</text><text transform="translate(807.99 249.85) scale(1.0 0.66)" textLength="8.1" lengthAdjust="spacingAndGlyphs">&lt;&gt;</text><text transform="translate(820.91 249.85) scale(1.0 0.66)" textLength="8.1" lengthAdjust="spacingAndGlyphs">&lt;&gt;</text><text transform="translate(846.75 250.2) scale(1.2 0.78)">&gt;</text><text transform="translate(71.73 260.23) scale(1.2 0.78)">&lt;</text><text transform="translate(97.56 260.23) scale(1.2 0.78)">&gt;</text><text transform="translate(226.73 259.88) scale(1.0 0.66)" textLength="8.1" lengthAdjust="spacingAndGlyphs">&lt;&gt;</text><text transform="translate(252.56 260.23) scale(1.2 0.78)">&gt;</text><text transform="translate(304.23 260.23) scale(1.2 0.78)">&lt;</text><text transform="translate(330.07 259.88) scale(1.0 0.66)" textLength="8.1" lengthAdjust="spacingAndGlyphs">&lt;&gt;</text><text transform="translate(459.24 260.23) scale(1.2 0.78)">&gt;</text><text transform="translate(485.07 259.88) scale(1.0 0.66)" textLength="8.1" lengthAdjust="spacingAndGlyphs">&lt;&gt;</text><text transform="translate(614.24 260.23) scale(1.2 0.78)">&gt;</text><text transform="translate(640.07 259.88) scale(1.0 0.66)" textLength="8.1" lengthAdjust="spacingAndGlyphs">&lt;&gt;</text><text transform="translate(691.74 259.88) scale(1.0 0.66)" textLength="8.1" lengthAdjust="spacingAndGlyphs">&lt;&gt;</text><text transform="translate(717.58 260.23) scale(1.2 0.78)">&gt;</text><text transform="translate(769.24 260.23) scale(1.2 0.78)">&lt;</text><text transform="translate(795.08 259.88) scale(1.0 0.66)" textLength="8.1" lengthAdjust="spacingAndGlyphs">&lt;&gt;</text><text transform="translate(807.99 259.88) scale(1.0 0.66)" textLength="8.1" lengthAdjust="spacingAndGlyphs">&lt;&gt;</text><text transform="translate(820.91 259.88) scale(1.0 0.66)" textLength="8.1" lengthAdjust="spacingAndGlyphs">&lt;&gt;</text><text transform="translate(846.75 260.23) scale(1.2 0.78)">&gt;</text><text transform="translate(226.73 269.9) scale(1.0 0.66)" textLength="8.1" lengthAdjust="spacingAndGlyphs">&lt;&gt;</text><text transform="translate(252.56 270.25) scale(1.2 0.78)">&gt;</text><text transform="translate(304.23 270.25) scale(1.2 0.78)">&lt;</text><text transform="translate(330.07 269.9) scale(1.0 0.66)" textLength="8.1" lengthAdjust="spacingAndGlyphs">&lt;&gt;</text><text transform="translate(459.24 270.25) scale(1.2 0.78)">&gt;</text><text transform="translate(485.07 269.9) scale(1.0 0.66)" textLength="8.1" lengthAdjust="spacingAndGlyphs">&lt;&gt;</text><text transform="translate(614.24 270.25) scale(1.2 0.78)">&gt;</text><text transform="translate(640.07 269.9) scale(1.0 0.66)" textLength="8.1" lengthAdjust="spacingAndGlyphs">&lt;&gt;</text><text transform="translate(691.74 269.9) scale(1.0 0.66)" textLength="8.1" lengthAdjust="spacingAndGlyphs">&lt;&gt;</text><text transform="translate(769.24 270.25) scale(1.2 0.78)">&lt;</text><text transform="translate(795.08 269.9) scale(1.0 0.66)" textLength="8.1" lengthAdjust="spacingAndGlyphs">&lt;&gt;</text><text transform="translate(807.99 269.9) scale(1.0 0.66)" textLength="8.1" lengthAdjust="spacingAndGlyphs">&lt;&gt;</text><text transform="translate(820.91 269.9) scale(1.0 0.66)" textLength="8.1" lengthAdjust="spacingAndGlyphs">&lt;&gt;</text><text transform="translate(846.75 270.25) scale(1.2 0.78)">&gt;</text><text transform="translate(226.73 279.93) scale(1.0 0.66)" textLength="8.1" lengthAdjust="spacingAndGlyphs">&lt;&gt;</text><text transform="translate(252.56 280.28) scale(1.2 0.78)">&gt;</text><text transform="translate(304.23 280.28) scale(1.2 0.78)">&lt;</text><text transform="translate(330.07 279.93) scale(1.0 0.66)" textLength="8.1" lengthAdjust="spacingAndGlyphs">&lt;&gt;</text><text transform="translate(459.24 280.28) scale(1.2 0.78)">&gt;</text><text transform="translate(485.07 279.93) scale(1.0 0.66)" textLength="8.1" lengthAdjust="spacingAndGlyphs">&lt;&gt;</text><text transform="translate(614.24 280.28) scale(1.2 0.78)">&gt;</text><text transform="translate(640.07 279.93) scale(1.0 0.66)" textLength="8.1" lengthAdjust="spacingAndGlyphs">&lt;&gt;</text><text transform="translate(691.74 279.93) scale(1.0 0.66)" textLength="8.1" lengthAdjust="spacingAndGlyphs">&lt;&gt;</text><text transform="translate(769.24 280.28) scale(1.2 0.78)">&lt;</text><text transform="translate(795.08 279.93) scale(1.0 0.66)" textLength="8.1" lengthAdjust="spacingAndGlyphs">&lt;&gt;</text><text transform="translate(807.99 279.93) scale(1.0 0.66)" textLength="8.1" lengthAdjust="spacingAndGlyphs">&lt;&gt;</text><text transform="translate(820.91 279.93) scale(1.0 0.66)" textLength="8.1" lengthAdjust="spacingAndGlyphs">&lt;&gt;</text><text transform="translate(846.75 280.28) scale(1.2 0.78)">&gt;</text><text transform="translate(71.73 289.95) scale(1.0 0.66)" textLength="8.1" lengthAdjust="spacingAndGlyphs">&lt;&gt;</text><text transform="translate(226.73 289.95) scale(1.0 0.66)" textLength="8.1" lengthAdjust="spacingAndGlyphs">&lt;&gt;</text><text transform="translate(252.56 290.3) scale(1.2 0.78)">&gt;</text><text transform="translate(304.23 290.3) scale(1.2 0.78)">&lt;</text><text transform="translate(330.07 289.95) scale(1.0 0.66)" textLength="8.1" lengthAdjust="spacingAndGlyphs">&lt;&gt;</text><text transform="translate(485.07 289.95) scale(1.0 0.66)" textLength="8.1" lengthAdjust="spacingAndGlyphs">&lt;&gt;</text><text transform="translate(614.24 290.3) scale(1.2 0.78)">&gt;</text><text transform="translate(640.07 290.3) scale(1.2 0.78)">&lt;</text><text transform="translate(691.74 289.95) scale(1.0 0.66)" textLength="8.1" lengthAdjust="spacingAndGlyphs">&lt;&gt;</text><text transform="translate(769.24 290.3) scale(1.2 0.78)">&lt;</text><text transform="translate(795.08 289.95) scale(1.0 0.66)" textLength="8.1" lengthAdjust="spacingAndGlyphs">&lt;&gt;</text><text transform="translate(807.99 289.95) scale(1.0 0.66)" textLength="8.1" lengthAdjust="spacingAndGlyphs">&lt;&gt;</text><text transform="translate(820.91 289.95) scale(1.0 0.66)" textLength="8.1" lengthAdjust="spacingAndGlyphs">&lt;&gt;</text><text transform="translate(833.83 289.95) scale(1.0 0.66)" textLength="8.1" lengthAdjust="spacingAndGlyphs">&lt;&gt;</text><text transform="translate(846.75 289.95) scale(1.0 0.66)" textLength="8.1" lengthAdjust="spacingAndGlyphs">&lt;&gt;</text><text transform="translate(226.73 299.98) scale(1.0 0.66)" textLength="8.1" lengthAdjust="spacingAndGlyphs">&lt;&gt;</text><text transform="translate(252.56 300.33) scale(1.2 0.78)">&gt;</text><text transform="translate(304.23 300.33) scale(1.2 0.78)">&lt;</text><text transform="translate(330.07 299.98) scale(1.0 0.66)" textLength="8.1" lengthAdjust="spacingAndGlyphs">&lt;&gt;</text><text transform="translate(485.07 299.98) scale(1.0 0.66)" textLength="8.1" lengthAdjust="spacingAndGlyphs">&lt;&gt;</text><text transform="translate(691.74 299.98) scale(1.0 0.66)" textLength="8.1" lengthAdjust="spacingAndGlyphs">&lt;&gt;</text><text transform="translate(717.58 300.33) scale(1.2 0.78)">&lt;</text><text transform="translate(769.24 300.33) scale(1.2 0.78)">&lt;</text><text transform="translate(795.08 299.98) scale(1.0 0.66)" textLength="8.1" lengthAdjust="spacingAndGlyphs">&lt;&gt;</text><text transform="translate(807.99 299.98) scale(1.0 0.66)" textLength="8.1" lengthAdjust="spacingAndGlyphs">&lt;&gt;</text><text transform="translate(820.91 299.98) scale(1.0 0.66)" textLength="8.1" lengthAdjust="spacingAndGlyphs">&lt;&gt;</text><text transform="translate(833.83 299.98) scale(1.0 0.66)" textLength="8.1" lengthAdjust="spacingAndGlyphs">&lt;&gt;</text><text transform="translate(846.75 299.98) scale(1.0 0.66)" textLength="8.1" lengthAdjust="spacingAndGlyphs">&lt;&gt;</text><text transform="translate(71.73 310.35) scale(1.2 0.78)">&gt;</text><text transform="translate(84.64 310.35) scale(1.2 0.78)">&gt;</text><text transform="translate(97.56 310.35) scale(1.2 0.78)">&gt;</text><text transform="translate(226.73 310) scale(1.0 0.66)" textLength="8.1" lengthAdjust="spacingAndGlyphs">&lt;&gt;</text><text transform="translate(252.56 310.35) scale(1.2 0.78)">&gt;</text><text transform="translate(304.23 310.35) scale(1.2 0.78)">&lt;</text><text transform="translate(330.07 310) scale(1.0 0.66)" textLength="8.1" lengthAdjust="spacingAndGlyphs">&lt;&gt;</text><text transform="translate(485.07 310) scale(1.0 0.66)" textLength="8.1" lengthAdjust="spacingAndGlyphs">&lt;&gt;</text><text transform="translate(691.74 310) scale(1.0 0.66)" textLength="8.1" lengthAdjust="spacingAndGlyphs">&lt;&gt;</text><text transform="translate(717.58 310.35) scale(1.2 0.78)">&lt;</text><text transform="translate(769.24 310) scale(1.0 0.66)" textLength="8.1" lengthAdjust="spacingAndGlyphs">&lt;&gt;</text><text transform="translate(782.16 310) scale(1.0 0.66)" textLength="8.1" lengthAdjust="spacingAndGlyphs">&lt;&gt;</text><text transform="translate(795.08 310) scale(1.0 0.66)" textLength="8.1" lengthAdjust="spacingAndGlyphs">&lt;&gt;</text><text transform="translate(807.99 310) scale(1.0 0.66)" textLength="8.1" lengthAdjust="spacingAndGlyphs">&lt;&gt;</text><text transform="translate(820.91 310) scale(1.0 0.66)" textLength="8.1" lengthAdjust="spacingAndGlyphs">&lt;&gt;</text><text transform="translate(833.83 310) scale(1.0 0.66)" textLength="8.1" lengthAdjust="spacingAndGlyphs">&lt;&gt;</text><text transform="translate(846.75 310) scale(1.0 0.66)" textLength="8.1" lengthAdjust="spacingAndGlyphs">&lt;&gt;</text><text transform="translate(97.56 320.38) scale(1.2 0.78)">&gt;</text><text transform="translate(226.73 320.02) scale(1.0 0.66)" textLength="8.1" lengthAdjust="spacingAndGlyphs">&lt;&gt;</text><text transform="translate(252.56 320.38) scale(1.2 0.78)">&gt;</text><text transform="translate(304.23 320.38) scale(1.2 0.78)">&lt;</text><text transform="translate(330.07 320.02) scale(1.0 0.66)" textLength="8.1" lengthAdjust="spacingAndGlyphs">&lt;&gt;</text><text transform="translate(485.07 320.02) scale(1.0 0.66)" textLength="8.1" lengthAdjust="spacingAndGlyphs">&lt;&gt;</text><text transform="translate(691.74 320.02) scale(1.0 0.66)" textLength="8.1" lengthAdjust="spacingAndGlyphs">&lt;&gt;</text><text transform="translate(717.58 320.38) scale(1.2 0.78)">&lt;</text><text transform="translate(769.24 320.02) scale(1.0 0.66)" textLength="8.1" lengthAdjust="spacingAndGlyphs">&lt;&gt;</text><text transform="translate(782.16 320.02) scale(1.0 0.66)" textLength="8.1" lengthAdjust="spacingAndGlyphs">&lt;&gt;</text><text transform="translate(795.08 320.02) scale(1.0 0.66)" textLength="8.1" lengthAdjust="spacingAndGlyphs">&lt;&gt;</text><text transform="translate(807.99 320.02) scale(1.0 0.66)" textLength="8.1" lengthAdjust="spacingAndGlyphs">&lt;&gt;</text><text transform="translate(820.91 320.02) scale(1.0 0.66)" textLength="8.1" lengthAdjust="spacingAndGlyphs">&lt;&gt;</text><text transform="translate(833.83 320.02) scale(1.0 0.66)" textLength="8.1" lengthAdjust="spacingAndGlyphs">&lt;&gt;</text><text transform="translate(846.75 320.02) scale(1.0 0.66)" textLength="8.1" lengthAdjust="spacingAndGlyphs">&lt;&gt;</text><text transform="translate(226.73 330.05) scale(1.0 0.66)" textLength="8.1" lengthAdjust="spacingAndGlyphs">&lt;&gt;</text><text transform="translate(252.56 330.4) scale(1.2 0.78)">&gt;</text><text transform="translate(304.23 330.4) scale(1.2 0.78)">&lt;</text><text transform="translate(330.07 330.05) scale(1.0 0.66)" textLength="8.1" lengthAdjust="spacingAndGlyphs">&lt;&gt;</text><text transform="translate(485.07 330.05) scale(1.0 0.66)" textLength="8.1" lengthAdjust="spacingAndGlyphs">&lt;&gt;</text><text transform="translate(691.74 330.05) scale(1.0 0.66)" textLength="8.1" lengthAdjust="spacingAndGlyphs">&lt;&gt;</text><text transform="translate(717.58 330.4) scale(1.2 0.78)">&lt;</text><text transform="translate(769.24 330.05) scale(1.0 0.66)" textLength="8.1" lengthAdjust="spacingAndGlyphs">&lt;&gt;</text><text transform="translate(795.08 330.05) scale(1.0 0.66)" textLength="8.1" lengthAdjust="spacingAndGlyphs">&lt;&gt;</text><text transform="translate(807.99 330.05) scale(1.0 0.66)" textLength="8.1" lengthAdjust="spacingAndGlyphs">&lt;&gt;</text><text transform="translate(820.91 330.05) scale(1.0 0.66)" textLength="8.1" lengthAdjust="spacingAndGlyphs">&lt;&gt;</text><text transform="translate(833.83 330.05) scale(1.0 0.66)" textLength="8.1" lengthAdjust="spacingAndGlyphs">&lt;&gt;</text><text transform="translate(846.75 330.05) scale(1.0 0.66)" textLength="8.1" lengthAdjust="spacingAndGlyphs">&lt;&gt;</text><text transform="translate(226.73 340.07) scale(1.0 0.66)" textLength="8.1" lengthAdjust="spacingAndGlyphs">&lt;&gt;</text><text transform="translate(252.56 340.43) scale(1.2 0.78)">&gt;</text><text transform="translate(304.23 340.43) scale(1.2 0.78)">&lt;</text><text transform="translate(330.07 340.07) scale(1.0 0.66)" textLength="8.1" lengthAdjust="spacingAndGlyphs">&lt;&gt;</text><text transform="translate(485.07 340.07) scale(1.0 0.66)" textLength="8.1" lengthAdjust="spacingAndGlyphs">&lt;&gt;</text><text transform="translate(691.74 340.07) scale(1.0 0.66)" textLength="8.1" lengthAdjust="spacingAndGlyphs">&lt;&gt;</text><text transform="translate(717.58 340.43) scale(1.2 0.78)">&lt;</text><text transform="translate(769.24 340.43) scale(1.2 0.78)">&lt;</text><text transform="translate(795.08 340.07) scale(1.0 0.66)" textLength="8.1" lengthAdjust="spacingAndGlyphs">&lt;&gt;</text><text transform="translate(807.99 340.07) scale(1.0 0.66)" textLength="8.1" lengthAdjust="spacingAndGlyphs">&lt;&gt;</text><text transform="translate(820.91 340.07) scale(1.0 0.66)" textLength="8.1" lengthAdjust="spacingAndGlyphs">&lt;&gt;</text><text transform="translate(833.83 340.07) scale(1.0 0.66)" textLength="8.1" lengthAdjust="spacingAndGlyphs">&lt;&gt;</text><text transform="translate(846.75 340.07) scale(1.0 0.66)" textLength="8.1" lengthAdjust="spacingAndGlyphs">&lt;&gt;</text><text transform="translate(226.73 350.1) scale(1.0 0.66)" textLength="8.1" lengthAdjust="spacingAndGlyphs">&lt;&gt;</text><text transform="translate(252.56 350.45) scale(1.2 0.78)">&gt;</text><text transform="translate(304.23 350.45) scale(1.2 0.78)">&lt;</text><text transform="translate(330.07 350.1) scale(1.0 0.66)" textLength="8.1" lengthAdjust="spacingAndGlyphs">&lt;&gt;</text><text transform="translate(485.07 350.1) scale(1.0 0.66)" textLength="8.1" lengthAdjust="spacingAndGlyphs">&lt;&gt;</text><text transform="translate(691.74 350.1) scale(1.0 0.66)" textLength="8.1" lengthAdjust="spacingAndGlyphs">&lt;&gt;</text><text transform="translate(717.58 350.45) scale(1.2 0.78)">&lt;</text><text transform="translate(769.24 350.45) scale(1.2 0.78)">&lt;</text><text transform="translate(795.08 350.1) scale(1.0 0.66)" textLength="8.1" lengthAdjust="spacingAndGlyphs">&lt;&gt;</text><text transform="translate(807.99 350.1) scale(1.0 0.66)" textLength="8.1" lengthAdjust="spacingAndGlyphs">&lt;&gt;</text><text transform="translate(820.91 350.1) scale(1.0 0.66)" textLength="8.1" lengthAdjust="spacingAndGlyphs">&lt;&gt;</text><text transform="translate(833.83 350.1) scale(1.0 0.66)" textLength="8.1" lengthAdjust="spacingAndGlyphs">&lt;&gt;</text><text transform="translate(846.75 350.1) scale(1.0 0.66)" textLength="8.1" lengthAdjust="spacingAndGlyphs">&lt;&gt;</text><text transform="translate(226.73 360.12) scale(1.0 0.66)" textLength="8.1" lengthAdjust="spacingAndGlyphs">&lt;&gt;</text><text transform="translate(252.56 360.48) scale(1.2 0.78)">&gt;</text><text transform="translate(304.23 360.48) scale(1.2 0.78)">&lt;</text><text transform="translate(330.07 360.12) scale(1.0 0.66)" textLength="8.1" lengthAdjust="spacingAndGlyphs">&lt;&gt;</text><text transform="translate(485.07 360.12) scale(1.0 0.66)" textLength="8.1" lengthAdjust="spacingAndGlyphs">&lt;&gt;</text><text transform="translate(691.74 360.12) scale(1.0 0.66)" textLength="8.1" lengthAdjust="spacingAndGlyphs">&lt;&gt;</text><text transform="translate(717.58 360.48) scale(1.2 0.78)">&lt;</text><text transform="translate(769.24 360.48) scale(1.2 0.78)">&lt;</text><text transform="translate(795.08 360.12) scale(1.0 0.66)" textLength="8.1" lengthAdjust="spacingAndGlyphs">&lt;&gt;</text><text transform="translate(807.99 360.12) scale(1.0 0.66)" textLength="8.1" lengthAdjust="spacingAndGlyphs">&lt;&gt;</text><text transform="translate(820.91 360.12) scale(1.0 0.66)" textLength="8.1" lengthAdjust="spacingAndGlyphs">&lt;&gt;</text><text transform="translate(833.83 360.12) scale(1.0 0.66)" textLength="8.1" lengthAdjust="spacingAndGlyphs">&lt;&gt;</text><text transform="translate(846.75 360.12) scale(1.0 0.66)" textLength="8.1" lengthAdjust="spacingAndGlyphs">&lt;&gt;</text><text transform="translate(226.73 370.15) scale(1.0 0.66)" textLength="8.1" lengthAdjust="spacingAndGlyphs">&lt;&gt;</text><text transform="translate(252.56 370.5) scale(1.2 0.78)">&gt;</text><text transform="translate(304.23 370.5) scale(1.2 0.78)">&lt;</text><text transform="translate(330.07 370.15) scale(1.0 0.66)" textLength="8.1" lengthAdjust="spacingAndGlyphs">&lt;&gt;</text><text transform="translate(485.07 370.15) scale(1.0 0.66)" textLength="8.1" lengthAdjust="spacingAndGlyphs">&lt;&gt;</text><text transform="translate(691.74 370.5) scale(1.2 0.78)">&gt;</text><text transform="translate(717.58 370.5) scale(1.2 0.78)">&gt;</text><text transform="translate(769.24 370.5) scale(1.2 0.78)">&lt;</text><text transform="translate(795.08 370.15) scale(1.0 0.66)" textLength="8.1" lengthAdjust="spacingAndGlyphs">&lt;&gt;</text><text transform="translate(807.99 370.15) scale(1.0 0.66)" textLength="8.1" lengthAdjust="spacingAndGlyphs">&lt;&gt;</text><text transform="translate(820.91 370.15) scale(1.0 0.66)" textLength="8.1" lengthAdjust="spacingAndGlyphs">&lt;&gt;</text><text transform="translate(833.83 370.15) scale(1.0 0.66)" textLength="8.1" lengthAdjust="spacingAndGlyphs">&lt;&gt;</text><text transform="translate(846.75 370.15) scale(1.0 0.66)" textLength="8.1" lengthAdjust="spacingAndGlyphs">&lt;&gt;</text><text transform="translate(226.73 380.18) scale(1.0 0.66)" textLength="8.1" lengthAdjust="spacingAndGlyphs">&lt;&gt;</text><text transform="translate(252.56 380.53) scale(1.2 0.78)">&gt;</text><text transform="translate(304.23 380.53) scale(1.2 0.78)">&lt;</text><text transform="translate(330.07 380.18) scale(1.0 0.66)" textLength="8.1" lengthAdjust="spacingAndGlyphs">&lt;&gt;</text><text transform="translate(485.07 380.18) scale(1.0 0.66)" textLength="8.1" lengthAdjust="spacingAndGlyphs">&lt;&gt;</text><text transform="translate(691.74 380.53) scale(1.2 0.78)">&gt;</text><text transform="translate(769.24 380.53) scale(1.2 0.78)">&lt;</text><text transform="translate(782.16 380.53) scale(1.2 0.78)">&lt;</text><text transform="translate(795.08 380.53) scale(1.2 0.78)">&lt;</text><text transform="translate(820.91 380.18) scale(1.0 0.66)" textLength="8.1" lengthAdjust="spacingAndGlyphs">&lt;&gt;</text><text transform="translate(833.83 380.18) scale(1.0 0.66)" textLength="8.1" lengthAdjust="spacingAndGlyphs">&lt;&gt;</text><text transform="translate(846.75 380.18) scale(1.0 0.66)" textLength="8.1" lengthAdjust="spacingAndGlyphs">&lt;&gt;</text><text transform="translate(226.73 390.2) scale(1.0 0.66)" textLength="8.1" lengthAdjust="spacingAndGlyphs">&lt;&gt;</text><text transform="translate(252.56 390.55) scale(1.2 0.78)">&gt;</text><text transform="translate(265.48 390.55) scale(1.2 0.78)">&gt;</text><text transform="translate(278.4 390.55) scale(1.2 0.78)">&gt;</text><text transform="translate(304.23 390.55) scale(1.2 0.78)">&lt;</text><text transform="translate(330.07 390.2) scale(1.0 0.66)" textLength="8.1" lengthAdjust="spacingAndGlyphs">&lt;&gt;</text><text transform="translate(485.07 390.2) scale(1.0 0.66)" textLength="8.1" lengthAdjust="spacingAndGlyphs">&lt;&gt;</text><text transform="translate(691.74 390.55) scale(1.2 0.78)">&gt;</text><text transform="translate(769.24 390.55) scale(1.2 0.78)">&lt;</text><text transform="translate(795.08 390.2) scale(1.0 0.66)" textLength="8.1" lengthAdjust="spacingAndGlyphs">&lt;&gt;</text><text transform="translate(807.99 390.2) scale(1.0 0.66)" textLength="8.1" lengthAdjust="spacingAndGlyphs">&lt;&gt;</text><text transform="translate(820.91 390.2) scale(1.0 0.66)" textLength="8.1" lengthAdjust="spacingAndGlyphs">&lt;&gt;</text><text transform="translate(833.83 390.2) scale(1.0 0.66)" textLength="8.1" lengthAdjust="spacingAndGlyphs">&lt;&gt;</text><text transform="translate(846.75 390.2) scale(1.0 0.66)" textLength="8.1" lengthAdjust="spacingAndGlyphs">&lt;&gt;</text><text transform="translate(226.73 400.22) scale(1.0 0.66)" textLength="8.1" lengthAdjust="spacingAndGlyphs">&lt;&gt;</text><text transform="translate(252.56 400.57) scale(1.2 0.78)">&gt;</text><text transform="translate(304.23 400.57) scale(1.2 0.78)">&lt;</text><text transform="translate(795.08 400.57) scale(1.2 0.78)">&lt;</text><text transform="translate(820.91 400.57) scale(1.2 0.78)">&gt;</text><text transform="translate(846.75 400.22) scale(1.0 0.66)" textLength="8.1" lengthAdjust="spacingAndGlyphs">&lt;&gt;</text><text transform="translate(226.73 420.27) scale(1.0 0.66)" textLength="8.1" lengthAdjust="spacingAndGlyphs">&lt;&gt;</text><text transform="translate(252.56 420.62) scale(1.2 0.78)">&gt;</text><text transform="translate(265.48 420.62) scale(1.2 0.78)">&gt;</text><text transform="translate(278.4 420.62) scale(1.2 0.78)">&gt;</text><text transform="translate(304.23 420.62) scale(1.2 0.78)">&lt;</text><text transform="translate(317.15 420.62) scale(1.2 0.78)">&lt;</text><text transform="translate(330.07 420.62) scale(1.2 0.78)">&lt;</text><text transform="translate(485.07 420.27) scale(1.0 0.66)" textLength="8.1" lengthAdjust="spacingAndGlyphs">&lt;&gt;</text><text transform="translate(614.24 420.62) scale(1.2 0.78)">&lt;</text><text transform="translate(640.07 420.62) scale(1.2 0.78)">&gt;</text><text transform="translate(691.74 420.62) scale(1.2 0.78)">&gt;</text><text transform="translate(704.66 420.62) scale(1.2 0.78)">&gt;</text><text transform="translate(717.58 420.62) scale(1.2 0.78)">&gt;</text><text transform="translate(795.08 420.62) scale(1.2 0.78)">&lt;</text><text transform="translate(820.91 420.62) scale(1.2 0.78)">&gt;</text><text transform="translate(846.75 420.27) scale(1.0 0.66)" textLength="8.1" lengthAdjust="spacingAndGlyphs">&lt;&gt;</text><text transform="translate(950.08 420.62) scale(1.2 0.78)">&gt;</text><text transform="translate(226.73 430.3) scale(1.0 0.66)" textLength="8.1" lengthAdjust="spacingAndGlyphs">&lt;&gt;</text><text transform="translate(252.56 430.65) scale(1.2 0.78)">&gt;</text><text transform="translate(265.48 430.65) scale(1.2 0.78)">&gt;</text><text transform="translate(278.4 430.65) scale(1.2 0.78)">&gt;</text><text transform="translate(304.23 430.65) scale(1.2 0.78)">&lt;</text><text transform="translate(317.15 430.65) scale(1.2 0.78)">&lt;</text><text transform="translate(330.07 430.65) scale(1.2 0.78)">&lt;</text><text transform="translate(485.07 430.3) scale(1.0 0.66)" textLength="8.1" lengthAdjust="spacingAndGlyphs">&lt;&gt;</text><text transform="translate(614.24 430.65) scale(1.2 0.78)">&lt;</text><text transform="translate(640.07 430.65) scale(1.2 0.78)">&gt;</text><text transform="translate(691.74 430.65) scale(1.2 0.78)">&gt;</text><text transform="translate(704.66 430.65) scale(1.2 0.78)">&gt;</text><text transform="translate(717.58 430.65) scale(1.2 0.78)">&gt;</text><text transform="translate(795.08 430.65) scale(1.2 0.78)">&lt;</text><text transform="translate(820.91 430.65) scale(1.2 0.78)">&gt;</text><text transform="translate(846.75 430.3) scale(1.0 0.66)" textLength="8.1" lengthAdjust="spacingAndGlyphs">&lt;&gt;</text><text transform="translate(950.08 430.65) scale(1.2 0.78)">&gt;</text><text transform="translate(226.73 440.32) scale(1.0 0.66)" textLength="8.1" lengthAdjust="spacingAndGlyphs">&lt;&gt;</text><text transform="translate(252.56 440.68) scale(1.2 0.78)">&gt;</text><text transform="translate(265.48 440.68) scale(1.2 0.78)">&gt;</text><text transform="translate(278.4 440.68) scale(1.2 0.78)">&gt;</text><text transform="translate(304.23 440.68) scale(1.2 0.78)">&lt;</text><text transform="translate(317.15 440.68) scale(1.2 0.78)">&lt;</text><text transform="translate(330.07 440.68) scale(1.2 0.78)">&lt;</text><text transform="translate(485.07 440.32) scale(1.0 0.66)" textLength="8.1" lengthAdjust="spacingAndGlyphs">&lt;&gt;</text><text transform="translate(640.07 440.68) scale(1.2 0.78)">&gt;</text><text transform="translate(691.74 440.68) scale(1.2 0.78)">&gt;</text><text transform="translate(704.66 440.68) scale(1.2 0.78)">&gt;</text><text transform="translate(717.58 440.68) scale(1.2 0.78)">&gt;</text><text transform="translate(795.08 440.68) scale(1.2 0.78)">&lt;</text><text transform="translate(820.91 440.68) scale(1.2 0.78)">&gt;</text><text transform="translate(846.75 440.32) scale(1.0 0.66)" textLength="8.1" lengthAdjust="spacingAndGlyphs">&lt;&gt;</text><text transform="translate(950.08 440.68) scale(1.2 0.78)">&gt;</text><text transform="translate(226.73 450.35) scale(1.0 0.66)" textLength="8.1" lengthAdjust="spacingAndGlyphs">&lt;&gt;</text><text transform="translate(252.56 450.7) scale(1.2 0.78)">&gt;</text><text transform="translate(304.23 450.7) scale(1.2 0.78)">&lt;</text><text transform="translate(317.15 450.7) scale(1.2 0.78)">&lt;</text><text transform="translate(330.07 450.7) scale(1.2 0.78)">&lt;</text><text transform="translate(485.07 450.35) scale(1.0 0.66)" textLength="8.1" lengthAdjust="spacingAndGlyphs">&lt;&gt;</text><text transform="translate(691.74 450.7) scale(1.2 0.78)">&gt;</text><text transform="translate(795.08 450.7) scale(1.2 0.78)">&lt;</text><text transform="translate(820.91 450.7) scale(1.2 0.78)">&gt;</text><text transform="translate(846.75 450.35) scale(1.0 0.66)" textLength="8.1" lengthAdjust="spacingAndGlyphs">&lt;&gt;</text><text transform="translate(950.08 450.7) scale(1.2 0.78)">&gt;</text><text transform="translate(226.73 470.4) scale(1.0 0.66)" textLength="8.1" lengthAdjust="spacingAndGlyphs">&lt;&gt;</text><text transform="translate(252.56 470.75) scale(1.2 0.78)">&gt;</text><text transform="translate(304.23 470.75) scale(1.2 0.78)">&lt;</text><text transform="translate(691.74 470.75) scale(1.2 0.78)">&gt;</text><text transform="translate(795.08 470.75) scale(1.2 0.78)">&lt;</text><text transform="translate(820.91 470.75) scale(1.2 0.78)">&gt;</text><text transform="translate(846.75 470.4) scale(1.0 0.66)" textLength="8.1" lengthAdjust="spacingAndGlyphs">&lt;&gt;</text></g>
</svg></body></html>
